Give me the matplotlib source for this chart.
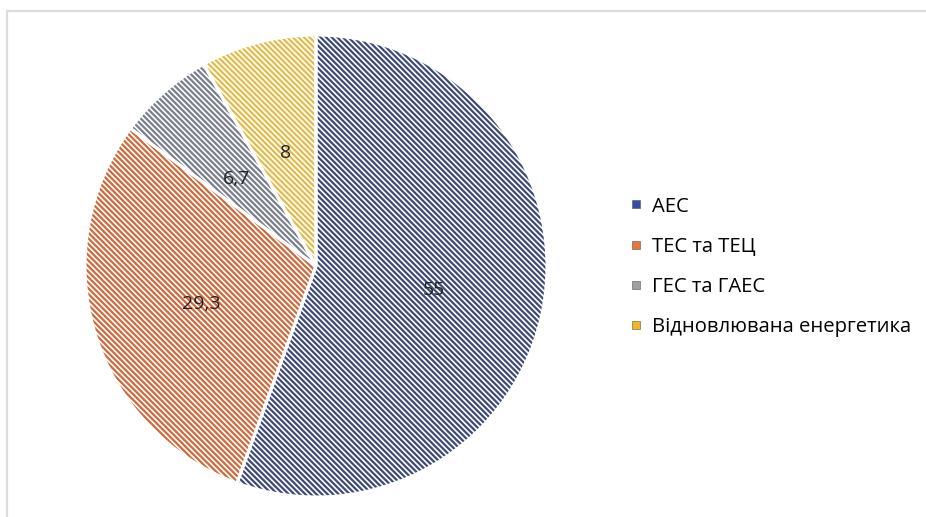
import matplotlib.pyplot as plt
import numpy as np
from matplotlib.lines import Line2D

# data
labels = ["АЕС", "ТЕС та ТЕЦ", "ГЕС та ГАЕС", "Відновлювана енергетика"]
values = [55, 29.3, 6.7, 8]
value_text = ["55", "29,3", "6,7", "8"]
colors = ["#3f4a78", "#cf6a3c", "#7a7f8c", "#e3bb4a"]
marker_colors = ["#2f4fa8", "#e8773a", "#a0a0a0", "#f2b81e"]

plt.rcParams["font.family"] = ["Open Sans", "DejaVu Sans"]
plt.rcParams["hatch.linewidth"] = 1.6

W, H = 926, 517
fig = plt.figure(figsize=(W / 100, H / 100), dpi=100)

# pie centre (316, 266) px, radius 231 px
cx, cy, r = 316, 266, 231
ax = fig.add_axes([(cx - r) / W, (H - cy - r) / H, 2 * r / W, 2 * r / H])

wedges, _ = ax.pie(values, startangle=90, counterclock=False, radius=1,
                   wedgeprops=dict(linewidth=0))
for w, c in zip(wedges, colors):
    w.set_facecolor("white")
    w.set_edgecolor(c)
    w.set_hatch("\\" * 6)
    w.set_linewidth(0)

# white separators on top
ax.pie(values, startangle=90, counterclock=False, radius=1,
       wedgeprops=dict(facecolor="none", edgecolor="white", linewidth=2.2))

for w, t in zip(wedges, value_text):
    ang = np.deg2rad((w.theta1 + w.theta2) / 2)
    ax.text(0.52 * np.cos(ang), 0.52 * np.sin(ang) - 0.015, t, ha="center",
            va="center", fontsize=14, color="#222222")

ax.set_xlim(-1, 1)
ax.set_ylim(-1, 1)
ax.set_aspect("equal")
ax.axis("off")

handles = [Line2D([], [], marker="s", linestyle="none", markersize=5.5,
                  markerfacecolor=c, markeredgecolor="#555555",
                  markeredgewidth=0.4) for c in marker_colors]
fig.legend(handles, labels, loc="center left",
           bbox_to_anchor=(630 / W, 1 - 267 / H), frameon=False,
           fontsize=14.6, handlelength=0.6, handletextpad=0.5,
           labelspacing=1.0, borderpad=0, borderaxespad=0)

# light frame of the chart area
fig.add_artist(Line2D([7 / W, 1], [1 - 10.5 / H, 1 - 10.5 / H],
                      color="#dcdcdc", linewidth=1.6,
                      transform=fig.transFigure))
fig.add_artist(Line2D([7 / W, 7 / W], [0, 1 - 10.5 / H],
                      color="#dcdcdc", linewidth=1.6,
                      transform=fig.transFigure))

fig.savefig("out.png", dpi=100)
